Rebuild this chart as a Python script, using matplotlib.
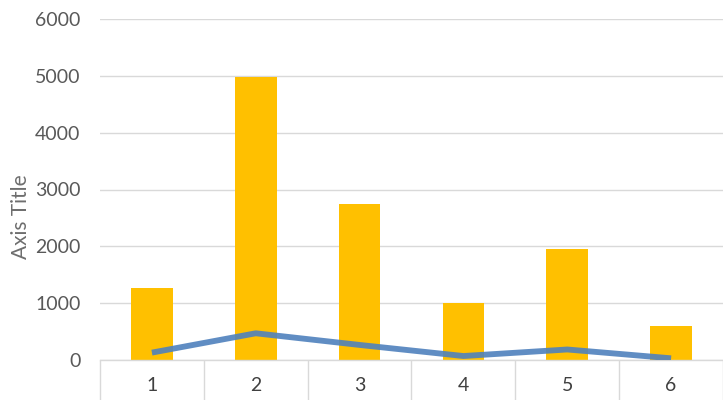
import matplotlib
matplotlib.use("Agg")
import matplotlib.pyplot as plt
import numpy as np

categories = ["1", "2", "3", "4", "5", "6"]
bar_values = [1270, 4980, 2750, 1000, 1950, 590]
line_values = [130, 470, 265, 70, 185, 30]
y_ticks = [0, 1000, 2000, 3000, 4000, 5000, 6000]

plt.rcParams["font.family"] = ["Lato", "DejaVu Sans"]

fig = plt.figure(figsize=(7.23, 4.00), dpi=100)
ax = fig.add_axes([100 / 723, 40 / 400, 623 / 723, 341 / 400])

x = np.arange(1, len(categories) + 1)
ax.bar(x, bar_values, width=0.4, color="#FFC000", zorder=2)
ax.plot(x, line_values, color="#4F81BD", linewidth=4.2, alpha=0.9,
        solid_capstyle="butt", zorder=3)

ax.set_xlim(0.5, len(categories) + 0.5)
ax.set_ylim(0, 6000)
ax.set_yticks(y_ticks)
ax.set_yticklabels([str(v) for v in y_ticks])
ax.yaxis.grid(True, color="#D9D9D9", linewidth=1.0, zorder=0)
ax.set_axisbelow(True)

ax.set_xticks(x)
ax.set_xticklabels(categories)
ax.set_xticks(np.arange(0.5, len(categories) + 1.0, 1.0), minor=True)
ax.tick_params(axis="x", which="major", length=0, pad=12,
               labelsize=14, labelcolor="#404040")
ax.tick_params(axis="x", which="minor", length=30, width=1.0,
               color="#D9D9D9", direction="out")
ax.tick_params(axis="y", length=0, pad=14, labelsize=14, labelcolor="#595959")

for side in ("top", "right", "left"):
    ax.spines[side].set_visible(False)
ax.spines["bottom"].set_color("#D9D9D9")
ax.spines["bottom"].set_linewidth(1.0)

ax.set_ylabel("Axis Title", fontsize=15, color="#6E6E6E")
ax.yaxis.set_label_coords(-0.11, 0.42)

fig.savefig("out.png", dpi=100)
